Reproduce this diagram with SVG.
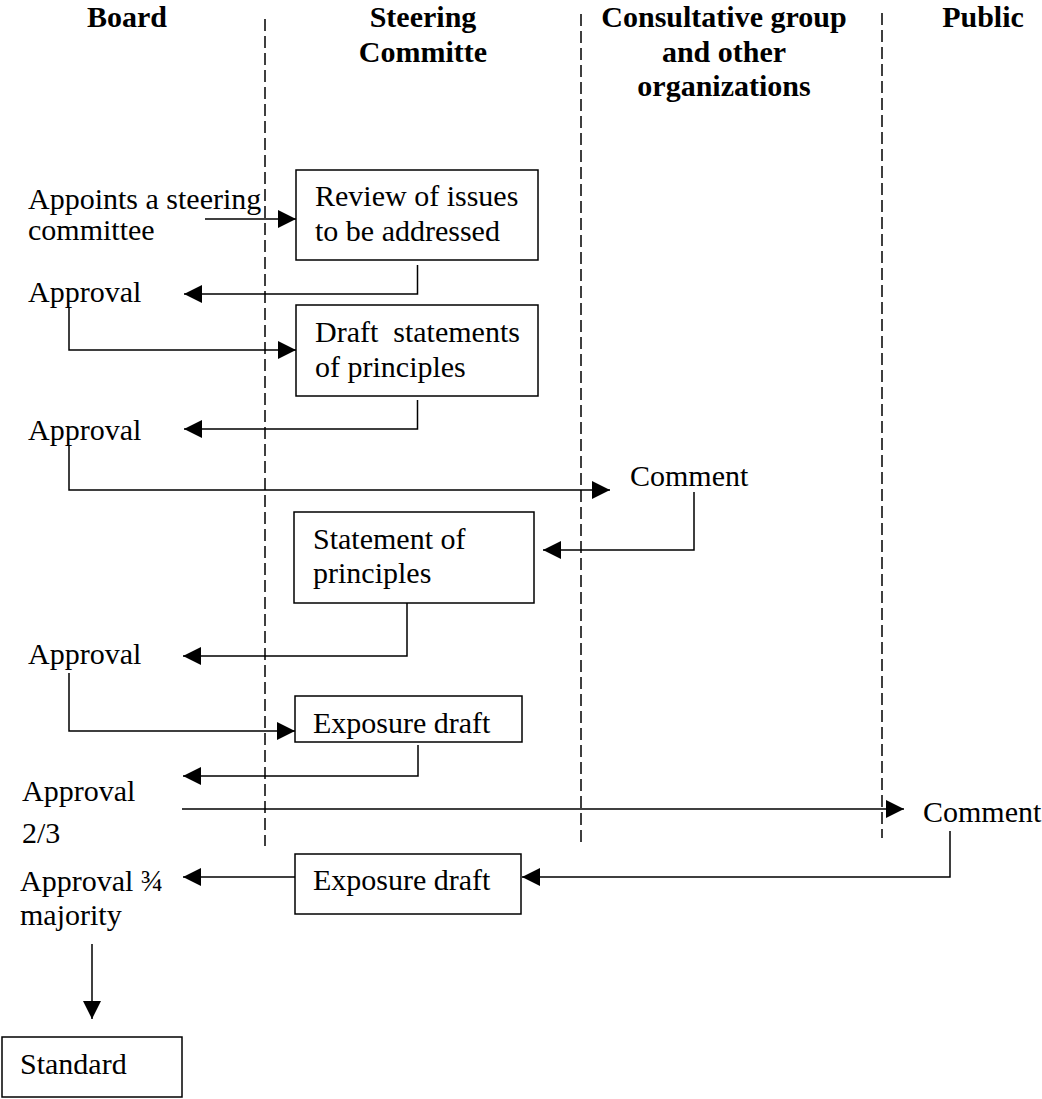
<svg xmlns="http://www.w3.org/2000/svg" width="1042" height="1099" viewBox="0 0 1042 1099">
<style>
.hd{font-family:"Liberation Serif","Times New Roman",serif;font-size:30px;font-weight:bold;text-anchor:middle;fill:#000}
.t{font-family:"Liberation Serif","Times New Roman",serif;font-size:30px;fill:#000;white-space:pre}
.box{fill:#fff;stroke:#000;stroke-width:1.5}
.lane{stroke:#000;stroke-width:1.5;stroke-dasharray:12 5;fill:none}
.c{stroke:#000;stroke-width:1.5;fill:none}
.a{marker-end:url(#ah)}
</style>
<defs>
<marker id="ah" markerUnits="userSpaceOnUse" markerWidth="19" markerHeight="19" refX="18" refY="9" orient="auto">
<path d="M0,0 L18,9 L0,18 Z" fill="#000"/>
</marker>
</defs>
<rect width="1042" height="1099" fill="#fff"/>
<g id="lanes">
<line class="lane" x1="265" y1="19" x2="265" y2="846"/>
<line class="lane" x1="581" y1="14" x2="581" y2="846"/>
<line class="lane" x1="882" y1="13" x2="882" y2="838"/>
<text class="hd" x="127" y="27">Board</text>
<text class="hd" x="423" y="27">Steering</text>
<text class="hd" x="423" y="62">Committe</text>
<text class="hd" x="724" y="27">Consultative group</text>
<text class="hd" x="724" y="62">and other</text>
<text class="hd" x="724" y="96">organizations</text>
<text class="hd" x="983" y="27">Public</text>
</g>
<g id="connectors">
<path class="c a" d="M205,219 H296"/>
<path class="c a" d="M417.5,265 V294 H184"/>
<path class="c a" d="M69,308 V350 H296"/>
<path class="c a" d="M417.5,400 V429 H184"/>
<path class="c a" d="M69,445 V490 H610"/>
<path class="c a" d="M694,492 V550 H543"/>
<path class="c a" d="M407,603 V656 H183"/>
<path class="c a" d="M69,673 V731 H295"/>
<path class="c a" d="M418,745 V776 H183"/>
<path class="c a" d="M182,809 H904"/>
<path class="c a" d="M950,831 V877 H522"/>
<path class="c a" d="M295,877 H183"/>
<path class="c a" d="M92,944 V1019"/>
</g>
<g id="appoints"><text class="t" x="28" y="209">Appoints a steering</text><text class="t" x="28" y="240">committee</text></g>
<g id="review"><rect class="box" x="296" y="170" width="242" height="90"/><text class="t" x="315" y="206">Review of issues</text><text class="t" x="315" y="241">to be addressed</text></g>
<g id="approval1"><text class="t" x="28" y="302">Approval</text></g>
<g id="draft"><rect class="box" x="296" y="305" width="242" height="91"/><text class="t" x="315" y="342">Draft  statements</text><text class="t" x="315" y="377">of principles</text></g>
<g id="approval2"><text class="t" x="28" y="440">Approval</text></g>
<g id="comment1"><text class="t" x="630" y="486">Comment</text></g>
<g id="statement"><rect class="box" x="294" y="512" width="240" height="91"/><text class="t" x="313" y="549">Statement of</text><text class="t" x="313" y="583">principles</text></g>
<g id="approval3"><text class="t" x="28" y="664">Approval</text></g>
<g id="exposure1"><rect class="box" x="295" y="696" width="227" height="46"/><text class="t" x="313" y="733">Exposure draft</text></g>
<g id="approval4"><text class="t" x="22" y="801">Approval</text><text class="t" x="22" y="843">2/3</text></g>
<g id="comment2"><text class="t" x="923" y="822">Comment</text></g>
<g id="exposure2"><rect class="box" x="295" y="854" width="226" height="60"/><text class="t" x="313" y="890">Exposure draft</text></g>
<g id="approval5"><text class="t" x="20" y="891">Approval ¾</text><text class="t" x="20" y="925">majority</text></g>
<g id="standard"><rect class="box" x="2" y="1037" width="180" height="60"/><text class="t" x="20" y="1074">Standard</text></g>
</svg>
